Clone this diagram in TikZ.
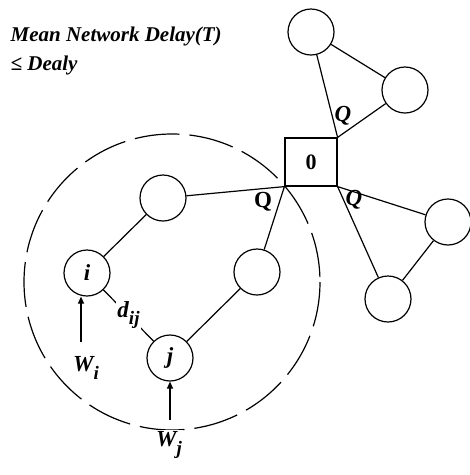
\documentclass[tikz,border=0pt]{standalone}
\usepackage{fontspec}
\setmainfont{Liberation Serif}
\usetikzlibrary{arrows.meta,calc}
\begin{document}
\begin{tikzpicture}[x=1pt,y=-1pt,line width=1.2pt,
  nd/.style={draw,circle,minimum size=46pt,inner sep=0pt,font=\fontsize{23}{23}\selectfont\bfseries\itshape},
  lbl/.style={inner sep=1pt,font=\fontsize{23}{23}\selectfont\bfseries\itshape},
  arr/.style={-{Triangle[length=7pt,width=6pt]}},
  dashc/.style={dash pattern=on 45pt off 10pt}]
\useasboundingbox (0,0) rectangle (470,475);
% title
\node[anchor=north west,inner sep=0pt,align=left,font=\fontsize{21}{29}\selectfont\bfseries\itshape] (title) at (10,26) {Mean Network Delay(T)\\{≤} Dealy};
% center box
\node[draw,minimum width=52pt,minimum height=48pt,inner sep=0pt,font=\fontsize{22}{22}\selectfont\bfseries] (box) at (311,162) {0};
% upper triangle
\node[nd] (u1) at (311,32) {};
\node[nd] (u2) at (405,90) {};
\draw (u1) -- (u2);
\draw (u1) -- (box.north east);
\draw (u2) -- (box.north east);
% right triangle
\node[nd] (r1) at (448,222) {};
\node[nd] (r2) at (388,299) {};
\draw (r1) -- (r2);
\draw (r1) -- (box.south east);
\draw (r2) -- (box.south east);
% left cluster
\node[nd] (a) at (163,198) {};
\node[nd] (b) at (257,272) {};
\node[nd] (i) at (87,273) {i};
\node[nd] (j) at (170,358) {j};
\draw (a) -- (box.south west);
\draw (b) -- (box.south west);
\draw (i) -- (a);
\draw (j) -- (b);
\draw (i) -- node[fill=white,inner sep=1pt,font=\fontsize{23}{23}\selectfont\bfseries\itshape,pos=0.5] (dij) {d\raisebox{-7pt}{\fontsize{19}{19}\selectfont ij}} (j);
% Q labels
\node[lbl] (q1) at (343,116) {Q};
\node[lbl] (q2) at (354,200) {Q};
\node[lbl,font=\fontsize{23}{23}\selectfont\bfseries] (q3) at (263,202) {Q};
% dashed circle
\draw[dashc] (172,282) circle (148);
% inputs
\node[lbl] (wi) at (86,368) {W\raisebox{-8pt}{\fontsize{19}{19}\selectfont i}};
\node[lbl,fill=white] (wj) at (169,445) {W\raisebox{-8pt}{\fontsize{19}{19}\selectfont j}};
\coordinate (wis) at (81,342);
\coordinate (wjs) at (170,420);
\draw[arr] (wis) -- (wis |- i.south);
\draw[arr] (wjs) -- (j);
\end{tikzpicture}
\end{document}
